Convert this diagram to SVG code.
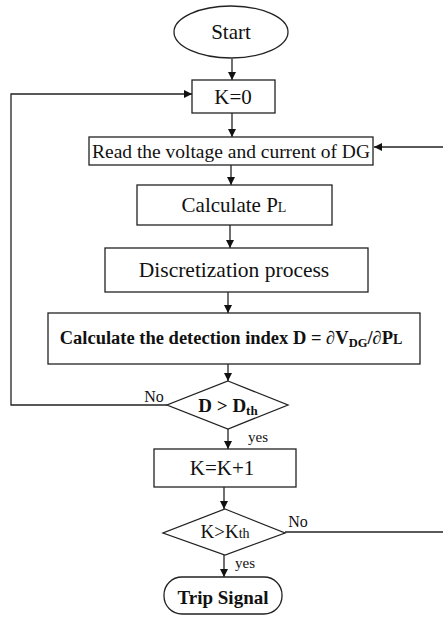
<svg xmlns="http://www.w3.org/2000/svg" width="443" height="617" viewBox="0 0 443 617">
<style>
.s{fill:#fff;stroke:#222;stroke-width:1.3}
.c{fill:none;stroke:#222;stroke-width:1.3}
.t{font-family:"Liberation Serif","Times New Roman",serif;fill:#111;text-anchor:middle}
.b{font-weight:bold}
</style>
<defs>
<marker id="a" viewBox="0 0 10 10" refX="10" refY="5" markerWidth="8" markerHeight="9" markerUnits="userSpaceOnUse" orient="auto">
<path d="M0,0 L10,5 L0,10 Z" fill="#111"/>
</marker>
</defs>
<rect width="443" height="617" fill="#fff"/>
<g id="connectors">
<line class="c" x1="232" y1="59" x2="232" y2="80" marker-end="url(#a)"/>
<line class="c" x1="232" y1="113" x2="232" y2="137" marker-end="url(#a)"/>
<line class="c" x1="231" y1="165" x2="231" y2="185" marker-end="url(#a)"/>
<line class="c" x1="230" y1="225" x2="230" y2="248" marker-end="url(#a)"/>
<line class="c" x1="228" y1="292" x2="228" y2="313" marker-end="url(#a)"/>
<line class="c" x1="228" y1="364" x2="228" y2="381" marker-end="url(#a)"/>
<line class="c" x1="228" y1="429" x2="228" y2="449" marker-end="url(#a)"/>
<line class="c" x1="224" y1="487" x2="224" y2="509" marker-end="url(#a)"/>
<line class="c" x1="224" y1="555" x2="224" y2="577" marker-end="url(#a)"/>
<polyline class="c" points="167,405 11,405 11,94 192,94" marker-end="url(#a)"/>
<line class="c" x1="443" y1="147" x2="374" y2="147" marker-end="url(#a)"/>
<line class="c" x1="285" y1="532" x2="443" y2="532"/>
<text class="t" x="154" y="402" font-size="16">No</text>
<text class="t" x="258" y="442" font-size="15">yes</text>
<text class="t" x="298" y="527" font-size="16">No</text>
<text class="t" x="245" y="568" font-size="15">yes</text>
</g>
<g id="start">
<ellipse class="s" cx="231" cy="32" rx="57" ry="26"/>
<text class="t" x="231" y="39" font-size="21">Start</text>
</g>
<g id="k0">
<rect class="s" x="192" y="80" width="83" height="33"/>
<text class="t" x="233" y="104" font-size="21">K=0</text>
</g>
<g id="read">
<rect class="s" x="89" y="137" width="284" height="28"/>
<text class="t" x="231" y="158" font-size="19" textLength="278" lengthAdjust="spacingAndGlyphs">Read the voltage and current of DG</text>
</g>
<g id="calcpl">
<rect class="s" x="137" y="185" width="195" height="40"/>
<text class="t" x="234" y="212" font-size="21">Calculate P<tspan font-size="14">L</tspan></text>
</g>
<g id="discretization">
<rect class="s" x="105" y="248" width="263" height="44"/>
<text class="t" x="234" y="277" font-size="21.5">Discretization process</text>
</g>
<g id="detection">
<rect class="s" x="48" y="313" width="372" height="51"/>
<text class="t b" x="231" y="344" font-size="18.5">Calculate the detection index D = ∂V<tspan font-size="12.5" dy="3">DG</tspan><tspan dy="-3">/∂P</tspan><tspan font-size="14">L</tspan></text>
</g>
<g id="decision1">
<polygon class="s" points="228,381 288,405 228,429 167,405"/>
<text class="t b" x="228" y="412" font-size="19">D &gt; D<tspan font-size="13" dy="3">th</tspan></text>
</g>
<g id="kinc">
<rect class="s" x="154" y="449" width="142" height="38"/>
<text class="t" x="222" y="475" font-size="21">K=K+1</text>
</g>
<g id="decision2">
<polygon class="s" points="225,509 285,533 225,555 163,533"/>
<text class="t" x="225" y="538" font-size="19">K&gt;K<tspan font-size="14">th</tspan></text>
</g>
<g id="trip">
<rect class="s" x="164" y="577" width="118" height="37" rx="18" ry="18"/>
<text class="t b" x="223" y="604" font-size="19">Trip Signal</text>
</g>
</svg>
